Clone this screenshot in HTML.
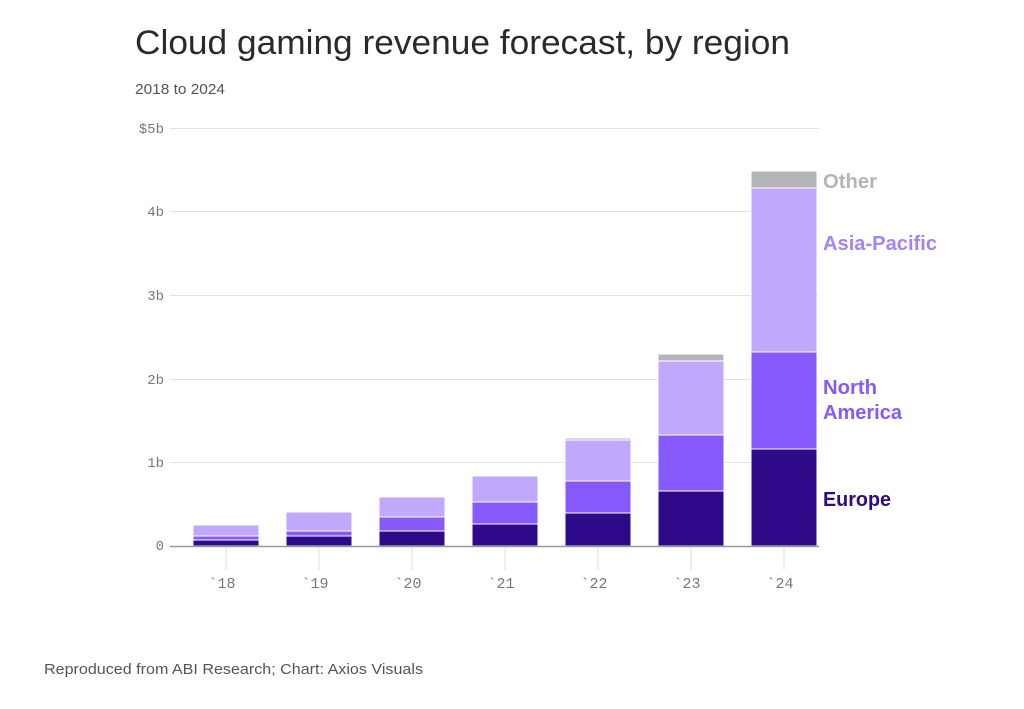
<!DOCTYPE html>
<html><head><style>
body{margin:0;background:#fff;width:1024px;height:704px;overflow:hidden;font-family:"Liberation Sans",sans-serif;}
</style></head><body>
<svg width="1024" height="704" xmlns="http://www.w3.org/2000/svg" font-family="Liberation Sans, sans-serif">
<text x="135" y="54" font-size="34" fill="#2a2a2a" textLength="655" lengthAdjust="spacingAndGlyphs">Cloud gaming revenue forecast, by region</text>
<text x="135" y="94" font-size="15" fill="#555" textLength="90" lengthAdjust="spacingAndGlyphs">2018 to 2024</text>
<g stroke="#e2e2e2" stroke-width="1">
<line x1="170" x2="819" y1="128.5" y2="128.5"/>
<line x1="170" x2="819" y1="211.5" y2="211.5"/>
<line x1="170" x2="819" y1="295.5" y2="295.5"/>
<line x1="170" x2="819" y1="379.5" y2="379.5"/>
<line x1="170" x2="819" y1="462.5" y2="462.5"/>
</g>
<g font-family="Liberation Mono, monospace" font-size="14" fill="#777" text-anchor="end">
<text x="164" y="133">$5b</text><text x="164" y="216">4b</text><text x="164" y="300">3b</text>
<text x="164" y="384">2b</text><text x="164" y="467">1b</text><text x="164" y="550">0</text>
</g>
<g stroke="#fff" stroke-width="1">
<rect x="193" y="540" width="66" height="6" fill="#2e0a8a"/>
<rect x="193" y="536" width="66" height="4" fill="#8659fc"/>
<rect x="193" y="525" width="66" height="11" fill="#c0a9fd"/>
<rect x="286" y="536" width="66" height="10" fill="#2e0a8a"/>
<rect x="286" y="531" width="66" height="5" fill="#8659fc"/>
<rect x="286" y="512" width="66" height="19" fill="#c0a9fd"/>
<rect x="379" y="531" width="66" height="15" fill="#2e0a8a"/>
<rect x="379" y="517" width="66" height="14" fill="#8659fc"/>
<rect x="379" y="497" width="66" height="20" fill="#c0a9fd"/>
<rect x="472" y="524" width="66" height="22" fill="#2e0a8a"/>
<rect x="472" y="502" width="66" height="22" fill="#8659fc"/>
<rect x="472" y="476" width="66" height="26" fill="#c0a9fd"/>
<rect x="565" y="513" width="66" height="33" fill="#2e0a8a"/>
<rect x="565" y="481" width="66" height="32" fill="#8659fc"/>
<rect x="565" y="440" width="66" height="41" fill="#c0a9fd"/>
<rect x="565" y="438" width="66" height="2" fill="#b5b5b8"/>
<rect x="658" y="491" width="66" height="55" fill="#2e0a8a"/>
<rect x="658" y="435" width="66" height="56" fill="#8659fc"/>
<rect x="658" y="361" width="66" height="74" fill="#c0a9fd"/>
<rect x="658" y="354" width="66" height="7" fill="#b5b5b8"/>
<rect x="751" y="449" width="66" height="97" fill="#2e0a8a"/>
<rect x="751" y="352" width="66" height="97" fill="#8659fc"/>
<rect x="751" y="188" width="66" height="164" fill="#c0a9fd"/>
<rect x="751" y="171" width="66" height="17" fill="#b5b5b8"/>
</g>
<line x1="170" x2="819" y1="546.5" y2="546.5" stroke="#999" stroke-width="1.5"/>
<g stroke="#ddd">
<line x1="226" x2="226" y1="547" y2="570"/><line x1="319" x2="319" y1="547" y2="570"/>
<line x1="412" x2="412" y1="547" y2="570"/><line x1="505" x2="505" y1="547" y2="570"/>
<line x1="598" x2="598" y1="547" y2="570"/><line x1="691" x2="691" y1="547" y2="570"/>
<line x1="784" x2="784" y1="547" y2="570"/>
</g>
<g font-family="Liberation Mono, monospace" font-size="15" fill="#777" text-anchor="middle">
<text x="222" y="588">`18</text><text x="315" y="588">`19</text><text x="408" y="588">`20</text>
<text x="501" y="588">`21</text><text x="594" y="588">`22</text><text x="687" y="588">`23</text><text x="780" y="588">`24</text>
</g>
<g font-size="20" font-weight="bold">
<text x="823" y="188" fill="#b5b5b8" textLength="54" lengthAdjust="spacingAndGlyphs">Other</text>
<text x="823" y="250" fill="#a383f7" textLength="114" lengthAdjust="spacingAndGlyphs">Asia-Pacific</text>
<text x="823" y="394" fill="#8659fc" textLength="54" lengthAdjust="spacingAndGlyphs">North</text>
<text x="823" y="419" fill="#8659fc" textLength="79" lengthAdjust="spacingAndGlyphs">America</text>
<text x="823" y="506" fill="#2e0a8a" textLength="68" lengthAdjust="spacingAndGlyphs">Europe</text>
</g>
<text x="44" y="674" font-size="15" fill="#555" textLength="379" lengthAdjust="spacingAndGlyphs">Reproduced from ABI Research; Chart: Axios Visuals</text>
</svg>
</body></html>
